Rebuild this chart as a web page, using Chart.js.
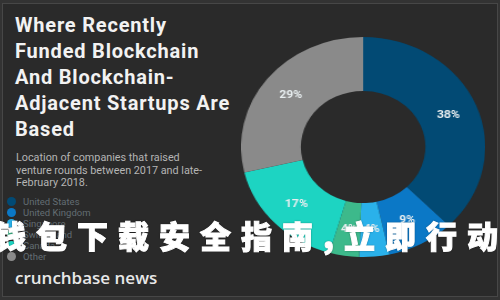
<!DOCTYPE html>
<html>
<head>
<meta charset="utf-8">
<script src="https://cdn.jsdelivr.net/npm/chart.js@4"></script>
<style>
  html, body { margin: 0; padding: 0; }
  body { width: 500px; height: 300px; background: #333; position: relative; overflow: hidden; font-family: Roboto, sans-serif; }
  #frame { position: absolute; left: 2px; top: 3px; width: 494px; height: 292px; background: #2a2a2a; border: 1px solid #474747; }
  #title { position: absolute; left: 15px; top: 12px; color: #f2f2f2; font: bold 20px/26px Roboto, sans-serif; letter-spacing: 0.8px; }
  #sub { position: absolute; left: 16px; top: 152px; color: #b5b5b5; font: 10.8px/12.5px Roboto, sans-serif; }
  #legend { position: absolute; left: 7px; top: 196px; }
  .item { height: 11px; display: flex; align-items: center; color: #636d73; font: 9.5px Roboto, sans-serif; }
  .dot { width: 9px; height: 9px; border-radius: 50%; margin-right: 7px; }
  #brand { position: absolute; left: 15px; top: 267px; color: #e8e8e8; font: 600 17px/22px "Open Sans", sans-serif; }
  #pie { position: absolute; left: 241px; top: 37px; width: 220px; height: 220px; transform: scaleX(1.11); transform-origin: left top; }
  #cn { position: absolute; left: -5px; top: 218px; color: #fff; font: 900 31px/34px "Noto Sans CJK SC", sans-serif; letter-spacing: 10px; white-space: nowrap; -webkit-text-stroke: 1px #fff; text-shadow: 0 0 2px rgba(0,0,0,0.7); }
</style>
</head>
<body>
<div id="frame"></div>
<div id="title">Where Recently<br>Funded Blockchain<br>And Blockchain-<br>Adjacent Startups Are<br>Based</div>
<div id="sub">Location of companies that raised<br>venture rounds between 2017 and late-<br>February 2018.</div>
<div id="legend"></div>
<div id="brand">crunchbase news</div>
<div id="pie"><canvas id="chart" width="220" height="220"></canvas></div>
<div id="cn">钱包下载安全指南,立即行动</div>
<script>
const countries = ['United States', 'United Kingdom', 'Singapore', 'Switzerland', 'Canada', 'Other'];
const shares = [38, 9, 4, 4, 17, 29];
const sliceColors = ['#024a74', '#0b78c6', '#2ab1ea', '#3db98b', '#1dd4c2', '#8a8a8a'];

// legend built from the same arrays
var legend = document.getElementById('legend');
for (let i in countries) {
    legend.innerHTML += '<div class="item"><span class="dot" style="background:' + sliceColors[i] + '"></span>' + countries[i] + '</div>';
}

const pctLabels = {
    id: 'pctLabels',
    afterDatasetsDraw(chart) {
        const ctx = chart.ctx;
        ctx.save();
        ctx.font = 'bold 11px Roboto';
        ctx.fillStyle = '#e8eef0';
        ctx.textAlign = 'center';
        ctx.textBaseline = 'middle';
        chart.getDatasetMeta(0).data.forEach((arc, i) => {
            const p = arc.tooltipPosition();
            ctx.fillText(shares[i] + '%', p.x, p.y);
        });
        ctx.restore();
    }
};

new Chart('chart', {
    type: 'doughnut',
    data: {
        labels: countries,
        datasets: [{
            data: shares,
            backgroundColor: sliceColors,
            borderWidth: 0,
        }]
    },
    options: {
        responsive: false,
        cutout: '51%',
        plugins: {
            legend: { display: false },
            tooltip: { enabled: false },
        },
        animation: false,
    },
    plugins: [pctLabels]
})
</script>
</body>
</html>
